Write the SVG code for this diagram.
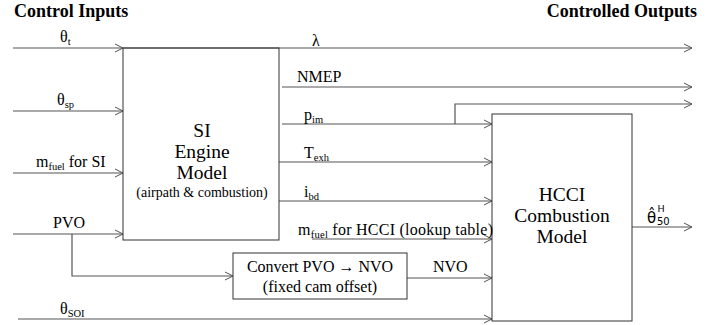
<svg xmlns="http://www.w3.org/2000/svg" width="725" height="325" viewBox="0 0 725 325">
<style>
.sf{font-family:'Liberation Serif','Times New Roman','DejaVu Serif',serif}
.t{font-size:18px;font-weight:bold}
.b{font-size:19.5px}
.s{font-size:14px}
.l{font-size:16px}
.sub{font-size:10.5px}
.box{fill:#fff;stroke:#333;stroke-width:1}
.c{fill:none;stroke:#555;stroke-width:1.2}
</style>
<defs>
<marker id="a" markerWidth="10" markerHeight="10" refX="9" refY="5" orient="auto" markerUnits="userSpaceOnUse">
<path d="M1,1 L9,5 L1,9" fill="none" stroke="#555" stroke-width="1"/>
</marker>
</defs>
<g class="sf" font-family="Liberation Serif, Times New Roman, serif" fill="#000">
<text class="t" x="14" y="17">Control Inputs</text>
<text class="t" x="697" y="17" text-anchor="end">Controlled Outputs</text>
<g id="connectors">
<line class="c" x1="13" y1="48" x2="123" y2="48" marker-end="url(#a)"/>
<line class="c" x1="13" y1="111" x2="123" y2="111" marker-end="url(#a)"/>
<line class="c" x1="13" y1="173" x2="123" y2="173" marker-end="url(#a)"/>
<line class="c" x1="13" y1="234" x2="123" y2="234" marker-end="url(#a)"/>
<polyline class="c" points="72,234 72,276 233,276" marker-end="url(#a)"/>
<line class="c" x1="18" y1="319" x2="492" y2="319" marker-end="url(#a)"/>
<line class="c" x1="123" y1="48" x2="692" y2="48" marker-end="url(#a)"/>
<line class="c" x1="282" y1="87" x2="692" y2="87" marker-end="url(#a)"/>
<line class="c" x1="282" y1="124" x2="492" y2="124" marker-end="url(#a)"/>
<polyline class="c" points="455,124 455,104 692,104" marker-end="url(#a)"/>
<line class="c" x1="279" y1="162" x2="492" y2="162" marker-end="url(#a)"/>
<line class="c" x1="279" y1="201" x2="492" y2="201" marker-end="url(#a)"/>
<line class="c" x1="312" y1="239" x2="492" y2="239" marker-end="url(#a)"/>
<line class="c" x1="407" y1="278" x2="492" y2="278" marker-end="url(#a)"/>
<line class="c" x1="632" y1="227" x2="692" y2="227" marker-end="url(#a)"/>
</g>
<g id="si">
<rect class="box" x="123" y="48" width="156" height="192" style="fill:none"/>
<text class="b" x="202" y="137" text-anchor="middle">SI</text>
<text class="b" x="202" y="158" text-anchor="middle">Engine</text>
<text class="b" x="202" y="179" text-anchor="middle">Model</text>
<text class="s" x="202" y="197" text-anchor="middle">(airpath &amp; combustion)</text>
</g>
<g id="hcci">
<rect class="box" x="492" y="114" width="140" height="207"/>
<text class="b" x="562" y="201" text-anchor="middle">HCCI</text>
<text class="b" x="562" y="222" text-anchor="middle">Combustion</text>
<text class="b" x="562" y="243" text-anchor="middle">Model</text>
</g>
<g id="convert">
<rect class="box" x="233" y="253" width="174" height="46"/>
<text class="l" x="320" y="272" text-anchor="middle">Convert PVO → NVO</text>
<text class="l" x="320" y="292" text-anchor="middle">(fixed cam offset)</text>
</g>
<g id="labels">
<text class="l" x="60" y="42">θ<tspan class="sub" dy="3">t</tspan></text>
<text class="l" x="57" y="105">θ<tspan class="sub" dy="3">sp</tspan></text>
<text class="l" x="36" y="167">m<tspan class="sub" dy="3">fuel</tspan><tspan dy="-3">  for SI</tspan></text>
<text class="l" x="53" y="228">PVO</text>
<text class="l" x="60" y="314">θ<tspan class="sub" dy="3">SOI</tspan></text>
<text class="l" x="312" y="46">λ</text>
<text class="l" x="297" y="82">NMEP</text>
<text class="l" x="304" y="120">p<tspan class="sub" dy="3">im</tspan></text>
<text class="l" x="304" y="158">T<tspan class="sub" dy="3">exh</tspan></text>
<text class="l" x="304" y="197">i<tspan class="sub" dy="3">bd</tspan></text>
<text class="l" x="298" y="235" textLength="195" lengthAdjust="spacing">m<tspan class="sub" dy="3">fuel</tspan><tspan dy="-3">  for HCCI (lookup table)</tspan></text>
<text class="l" x="433" y="272">NVO</text>
<text x="647" y="223" style="font-family:'DejaVu Sans',sans-serif;font-size:15px">θ̂</text>
<text x="657.5" y="212" style="font-family:'DejaVu Sans',sans-serif;font-size:9.5px">H</text>
<text x="657" y="224.5" style="font-family:'DejaVu Sans',sans-serif;font-size:10px">50</text>
</g>
</g>
</svg>
